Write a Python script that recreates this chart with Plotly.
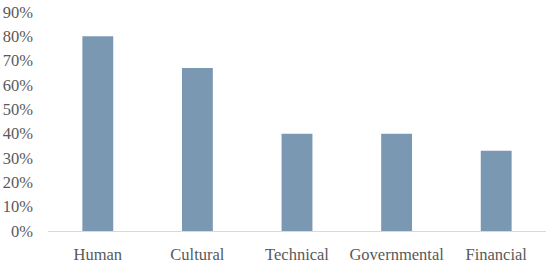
import plotly.graph_objects as go

categories = ["Human", "Cultural", "Technical", "Governmental", "Financial"]
values = [0.80, 0.67, 0.40, 0.40, 0.33]
y_ticks = [0, 0.1, 0.2, 0.3, 0.4, 0.5, 0.6, 0.7, 0.8, 0.9]
y_tick_labels = ["0%", "10%", "20%", "30%", "40%", "50%", "60%", "70%", "80%", "90%"]

fig = go.Figure(go.Bar(x=categories, y=values, marker_color="#7b98b3", marker_line_width=0))

fig.update_layout(
    width=550, height=264,
    margin=dict(l=48, r=4, t=12, b=33),
    paper_bgcolor="white", plot_bgcolor="white",
    bargap=0.69,
    showlegend=False,
    font=dict(family="Liberation Serif", size=16.5, color="#595959"),
)
fig.update_xaxes(showline=True, linecolor="#d9d9d9", linewidth=1, showgrid=False,
                 ticks="", ticklabelstandoff=8, automargin=False)
fig.update_yaxes(range=[0, 0.9], tickvals=y_ticks, ticktext=y_tick_labels,
                 showgrid=False, showline=False, zeroline=False, ticks="",
                 ticklabelstandoff=14, automargin=False)

fig.write_html("out.html", config={"displayModeBar": False},
               post_script="document.body.style.margin='0';")
